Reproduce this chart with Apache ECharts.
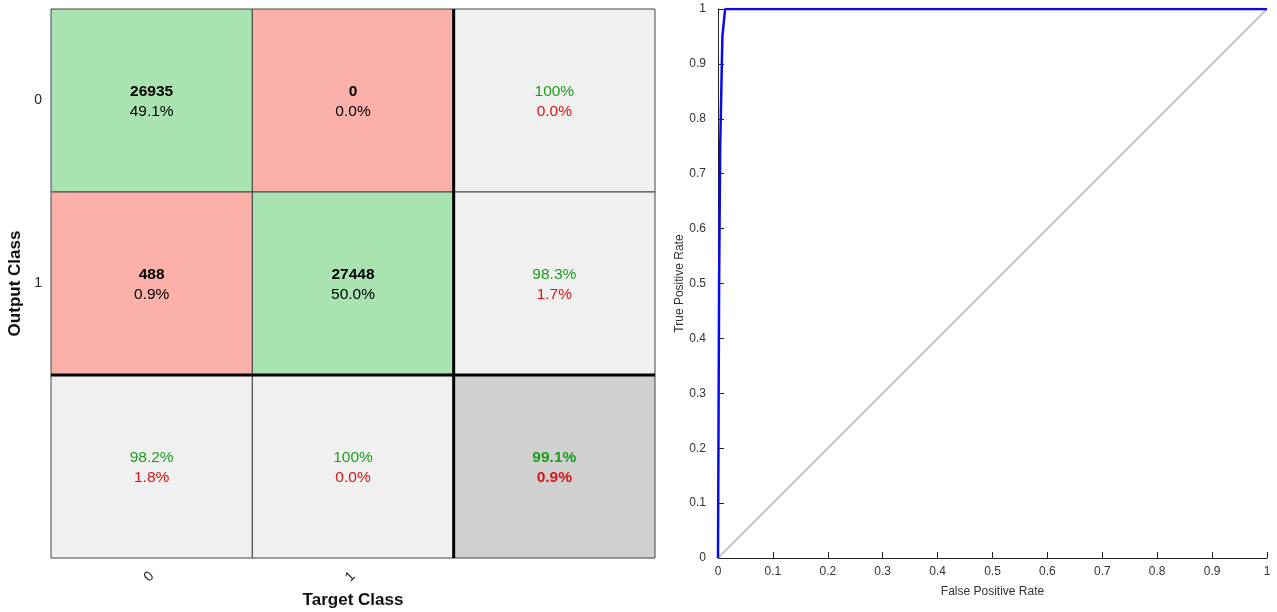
<!DOCTYPE html>
<html>
<head>
<meta charset="utf-8">
<script src="https://cdn.jsdelivr.net/npm/echarts@6/dist/echarts.min.js"></script>
<style>
html,body{margin:0;padding:0;background:#fff;}
#main{width:1277px;height:612px;}
</style>
</head>
<body>
<div id="main"></div>
<script>
// confusion matrix data
var classes = ['0', '1', ''];
var counts = [[26935, 0], [488, 27448]];          // [row][col]
var cellPct = [['49.1%', '0.0%'], ['0.9%', '50.0%']];
var rowGood = ['100%', '98.3%'], rowBad = ['0.0%', '1.7%'];
var colGood = ['98.2%', '100%'], colBad = ['1.8%', '0.0%'];
var totGood = '99.1%', totBad = '0.9%';

// roc curve data
var rocFpr = [0, 0.002, 0.004, 0.008, 0.013, 1];
var rocTpr = [0, 0.5, 0.75, 0.95, 1, 1];
var diagX = [0, 1];

var chart = echarts.init(document.getElementById('main'));

var cells = [];
for (var r = 0; r < 2; r++) {
	for (var c = 0; c < 2; c++) {
		cells.push([c, r, r == c ? 'good' : 'bad', '{n|' + counts[r][c] + '}\n{p|' + cellPct[r][c] + '}']);
	}
	cells.push([2, r, 'sum', '{g|' + rowGood[r] + '}\n{r|' + rowBad[r] + '}']);
}
for (var c = 0; c < 2; c++) {
	cells.push([c, 2, 'sum', '{g|' + colGood[c] + '}\n{r|' + colBad[c] + '}']);
}
cells.push([2, 2, 'total', '{gb|' + totGood + '}\n{rb|' + totBad + '}']);

var fills = {good: '#a8e3b1', bad: '#fbb1aa', sum: '#f0f0f0', total: '#d0d0d0'};
var fz = 15.5;

function renderCell(params, api) {
	var col = api.value(0), row = api.value(1);
	var p = api.coord([col, row]);
	var s = api.size([1, 1]);
	var x0 = p[0] - s[0] / 2, y0 = p[1] - s[1] / 2;
	var d = cells[params.dataIndex];
	var kids = [{
		type: 'rect',
		shape: {x: x0, y: y0, width: s[0], height: s[1]},
		style: {fill: fills[d[2]], stroke: '#444', lineWidth: 1}
	}, {
		type: 'text',
		style: {
			x: p[0], y: p[1] + 1, text: d[3], align: 'center', verticalAlign: 'middle',
			rich: {
				n: {fontSize: fz, fontWeight: 'bold', fill: '#000', lineHeight: 20, fontFamily: 'Liberation Sans'},
				p: {fontSize: fz, fill: '#000', lineHeight: 20, fontFamily: 'Liberation Sans'},
				g: {fontSize: fz, fill: '#1a9e1a', lineHeight: 20, fontFamily: 'Liberation Sans'},
				r: {fontSize: fz, fill: '#d81414', lineHeight: 20, fontFamily: 'Liberation Sans'},
				gb: {fontSize: fz, fontWeight: 'bold', fill: '#1a9e1a', lineHeight: 20, fontFamily: 'Liberation Sans'},
				rb: {fontSize: fz, fontWeight: 'bold', fill: '#d81414', lineHeight: 20, fontFamily: 'Liberation Sans'}
			}
		}
	}];
	// heavy separators before the summary row / column
	if (col == 2) {
		kids.push({type: 'line', z2: 10, shape: {x1: x0, y1: y0, x2: x0, y2: y0 + s[1]}, style: {stroke: '#000', lineWidth: 3}});
	}
	if (row == 2) {
		kids.push({type: 'line', z2: 10, shape: {x1: x0, y1: y0, x2: x0 + s[0], y2: y0}, style: {stroke: '#000', lineWidth: 3}});
	}
	return {type: 'group', children: kids};
}

var option = {
	animation: false,
	textStyle: {fontFamily: 'Liberation Sans'},
	grid: [
		{left: 51, top: 9, width: 604, height: 549, outerBoundsMode: 'none'},
		{left: 718, top: 9, width: 549, height: 549, outerBoundsMode: 'none'}
	],
	xAxis: [
		{
			gridIndex: 0, type: 'category', data: classes,
			axisLine: {show: false}, axisTick: {show: false},
			axisLabel: {rotate: 45, color: '#222', fontSize: 14, margin: 16},
			name: 'Target Class', nameLocation: 'middle', nameGap: 34,
			nameTextStyle: {fontSize: 17, fontWeight: 'bold', color: '#111'}
		},
		{
			gridIndex: 1, type: 'value', min: 0, max: 1, interval: 0.1,
			axisLine: {lineStyle: {color: '#222', width: 1}},
			axisTick: {inside: true, length: 6, lineStyle: {color: '#222'}},
			splitLine: {show: false},
			axisLabel: {color: '#333', fontSize: 12, margin: 8},
			name: 'False Positive Rate', nameLocation: 'middle', nameGap: 28,
			nameTextStyle: {fontSize: 12, color: '#333'}
		}
	],
	yAxis: [
		{
			gridIndex: 0, type: 'category', data: classes, inverse: true,
			axisLine: {show: false}, axisTick: {show: false},
			axisLabel: {color: '#222', fontSize: 14, margin: 9},
			name: 'Output Class', nameLocation: 'middle', nameGap: 27,
			nameTextStyle: {fontSize: 17, fontWeight: 'bold', color: '#111'}
		},
		{
			gridIndex: 1, type: 'value', min: 0, max: 1, interval: 0.1,
			axisLine: {lineStyle: {color: '#222', width: 1}},
			axisTick: {inside: true, length: 6, lineStyle: {color: '#222'}},
			splitLine: {show: false},
			axisLabel: {color: '#333', fontSize: 12, margin: 12},
			name: 'True Positive Rate', nameLocation: 'middle', nameGap: 30,
			nameTextStyle: {fontSize: 12, color: '#333'}
		}
	],
	series: [
		{
			type: 'custom', xAxisIndex: 0, yAxisIndex: 0,
			renderItem: renderCell,
			data: cells.map(function (d) { return [d[0], d[1]]; }),
			silent: true
		},
		{
			type: 'line', xAxisIndex: 1, yAxisIndex: 1,
			data: diagX.map(function (v) { return [v, v]; }),
			symbol: 'none', lineStyle: {color: '#c8c8c8', width: 2}
		},
		{
			type: 'line', xAxisIndex: 1, yAxisIndex: 1,
			data: rocFpr.map(function (v, i) { return [v, rocTpr[i]]; }),
			symbol: 'none', lineStyle: {color: '#0a0af0', width: 2.5}, z: 5
		}
	]
};
chart.setOption(option);
</script>
</body>
</html>
